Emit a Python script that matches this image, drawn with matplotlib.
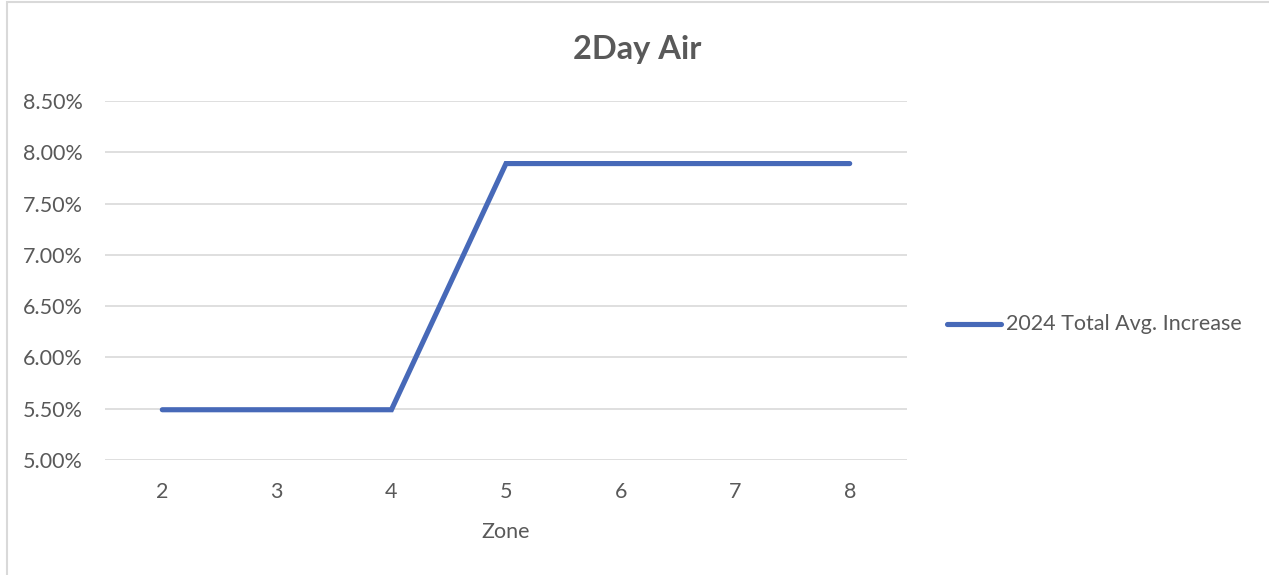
import matplotlib
matplotlib.use("Agg")
import matplotlib.pyplot as plt
from matplotlib.patches import Rectangle
from matplotlib.ticker import FuncFormatter

zones = [2, 3, 4, 5, 6, 7, 8]
avg_increase = [5.49, 5.49, 5.49, 7.89, 7.89, 7.89, 7.89]
series_name = "2024 Total Avg. Increase"
title = "2Day Air"
x_label = "Zone"
y_ticks = [5.0, 5.5, 6.0, 6.5, 7.0, 7.5, 8.0, 8.5]

plt.rcParams['font.family'] = ['Lato', 'DejaVu Sans']
W, H = 1269, 575
fig = plt.figure(figsize=(W / 100, H / 100), dpi=100)
text_color = "#595959"
line_color = "#4769B8"
fs = 15.5

# outer chart border
fig.patches.append(Rectangle((7 / W, -0.1), 1.2, (H - 2.5) / H + 0.1,
                             transform=fig.transFigure, fill=False,
                             edgecolor="#d9d9d9", linewidth=1.5))

ax = fig.add_axes([105 / W, 1 - 460 / H, (907 - 105) / W, (460 - 101) / H])
pos = list(range(len(zones)))
ax.plot(pos, avg_increase, color=line_color, linewidth=3.7,
        solid_capstyle="round", solid_joinstyle="miter", label=series_name, zorder=3)
ax.set_xlim(-0.5, len(zones) - 0.5)
ax.set_ylim(y_ticks[0], y_ticks[-1])
ax.set_yticks(y_ticks)
ax.yaxis.set_major_formatter(FuncFormatter(lambda v, p: f"{v:.2f}%"))
ax.set_xticks(pos)
ax.set_xticklabels([str(z) for z in zones])
ax.grid(axis="y", color="#d9d9d9", linewidth=1.2)
ax.set_axisbelow(True)
for s in ax.spines.values():
    s.set_visible(False)
ax.tick_params(axis="both", length=0, labelsize=fs, colors=text_color)
ax.tick_params(axis="y", pad=16)
ax.tick_params(axis="x", pad=16)
ax.set_xlabel(x_label, fontsize=fs, color=text_color, labelpad=14)

fig.text(637 / W, 1 - 49 / H, title, ha="center", va="center",
         fontsize=23.5, fontweight="bold", color=text_color)

# legend
fig.add_artist(plt.Line2D([947 / W, 1001 / W], [1 - 324 / H, 1 - 324 / H],
                          transform=fig.transFigure, color=line_color,
                          linewidth=3.7, solid_capstyle="round"))
fig.text(1006 / W, 1 - 324 / H, series_name, ha="left", va="center",
         fontsize=fs, color=text_color)

fig.savefig("out.png", dpi=100)
